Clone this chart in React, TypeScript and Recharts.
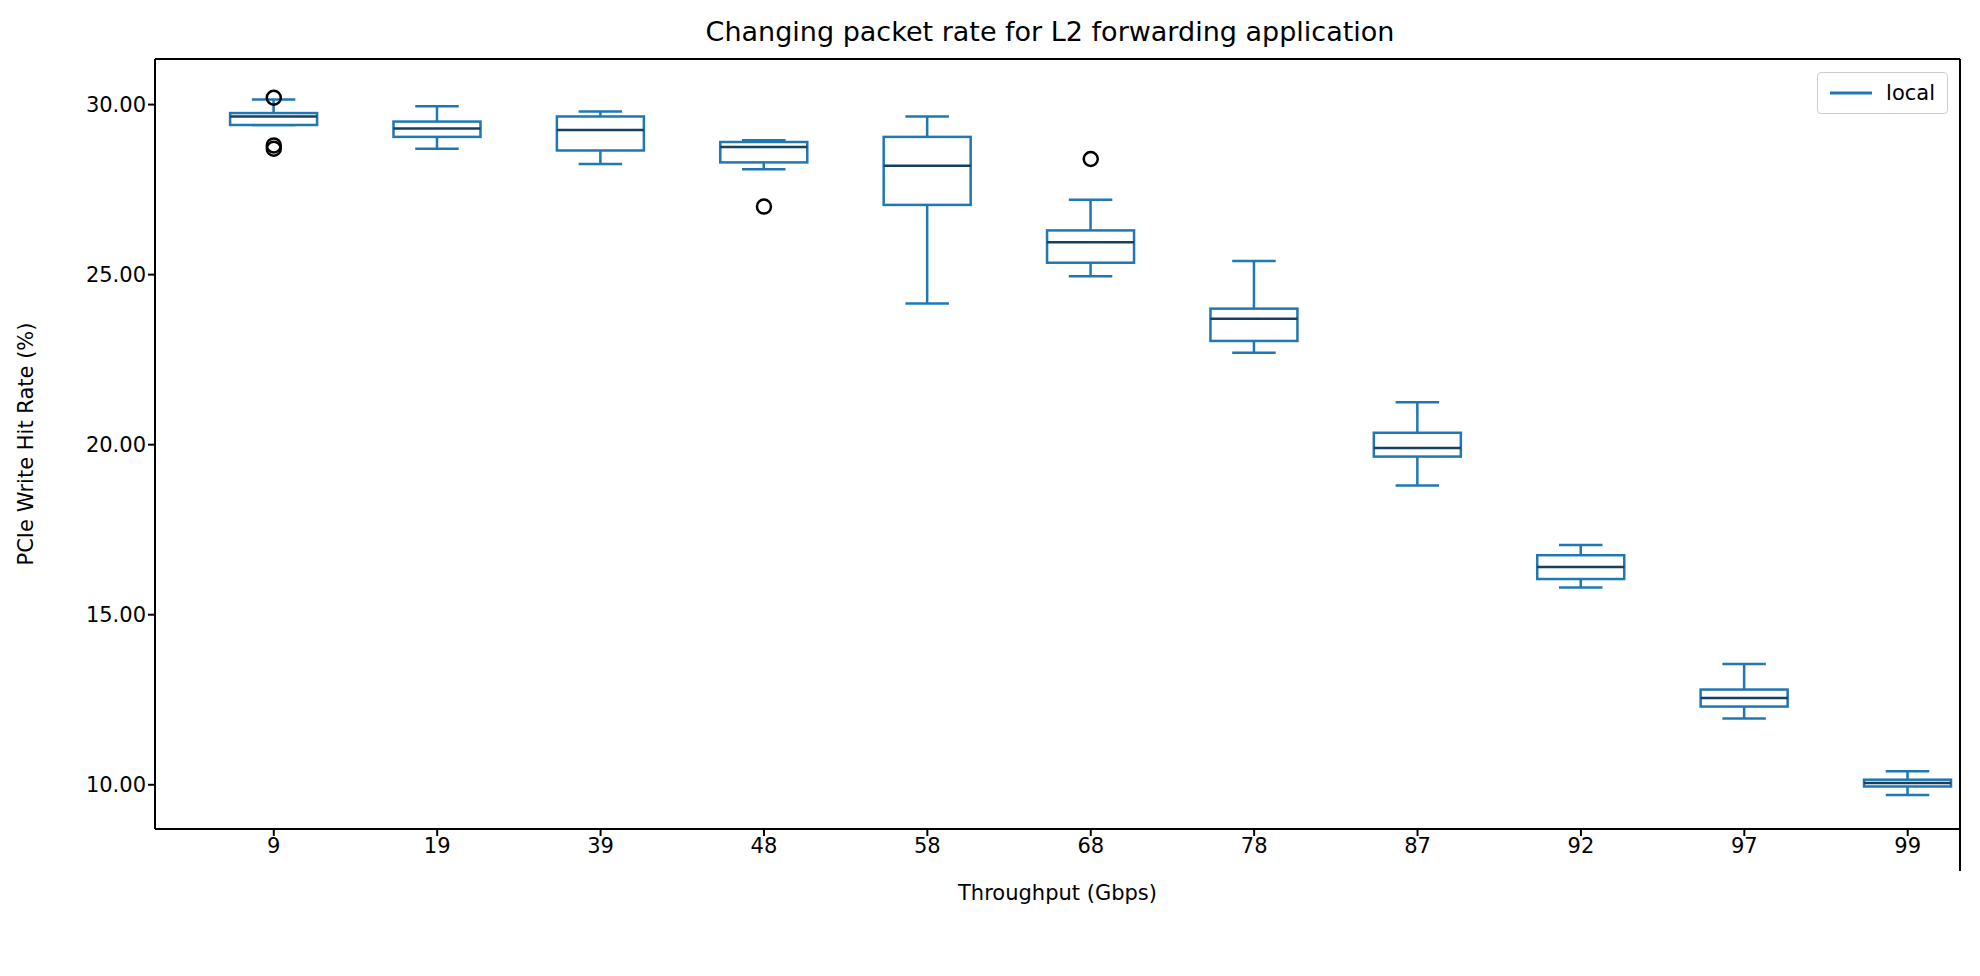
import { ComposedChart, Bar, Line, XAxis, YAxis, Legend } from 'recharts';

const categories = ['9', '19', '39', '48', '58', '68', '78', '87', '92', '97', '99'];
const whiskerLow = [29.4, 28.7, 28.25, 28.1, 24.15, 24.95, 22.7, 18.8, 15.8, 11.95, 9.7];
const q1 = [29.4, 29.05, 28.65, 28.3, 27.05, 25.35, 23.05, 19.65, 16.05, 12.3, 9.95];
const median = [29.65, 29.3, 29.25, 28.75, 28.2, 25.95, 23.7, 19.9, 16.4, 12.55, 10.05];
const q3 = [29.75, 29.5, 29.65, 28.9, 29.05, 26.3, 24.0, 20.35, 16.75, 12.8, 10.15];
const whiskerHigh = [30.15, 29.95, 29.8, 28.95, 29.65, 27.2, 25.4, 21.25, 17.05, 13.55, 10.4];
const outlierA = [30.2, null, null, 27.0, null, 28.4, null, null, null, null, null];
const outlierB = [28.8, null, null, null, null, null, null, null, null, null, null];
const outlierC = [28.7, null, null, null, null, null, null, null, null, null, null];
const yTicks = [10, 15, 20, 25, 30];

const data = categories.map((c, i) => ({
  idx: i + 1,
  cat: c,
  range: [whiskerLow[i], whiskerHigh[i]],
  o1: outlierA[i],
  o2: outlierB[i],
  o3: outlierC[i],
}));

const BLUE = '#1f77b4';
const font = 'DejaVu Sans, sans-serif';

const BoxShape = (props: any) => {
  const { x, y, width, height, index } = props;
  const lo = whiskerLow[index];
  const hi = whiskerHigh[index];
  // map value to pixel using bar's own scaled extents
  const py = (v: number) => y + height - ((v - lo) / (hi - lo)) * height;
  const cx = x + width / 2;
  const capW = width / 2;
  const yq1 = py(q1[index]);
  const yq3 = py(q3[index]);
  const ym = py(median[index]);
  return (
    <g>
      <line x1={cx} x2={cx} y1={y} y2={yq3} stroke={BLUE} strokeWidth={2.5} />
      <line x1={cx} x2={cx} y1={yq1} y2={y + height} stroke={BLUE} strokeWidth={2.5} />
      <line x1={cx - capW / 2} x2={cx + capW / 2} y1={y} y2={y} stroke={BLUE} strokeWidth={2.5} />
      <line x1={cx - capW / 2} x2={cx + capW / 2} y1={y + height} y2={y + height} stroke={BLUE} strokeWidth={2.5} />
      <rect x={x} y={yq3} width={width} height={Math.max(yq1 - yq3, 0.5)} fill="white" stroke={BLUE} strokeWidth={2.5} />
      <line x1={x} x2={x + width} y1={ym} y2={ym} stroke="#173f5f" strokeWidth={2.5} />
    </g>
  );
};

const OutlierDot = (props: any) => {
  const { cx, cy, value } = props;
  if (value == null || cy == null) return <g />;
  return <circle cx={cx} cy={cy} r={7} fill="none" stroke="#000" strokeWidth={2.5} />;
};

const LegendBox = () => (
  <div style={{ border: '1px solid #ccc', borderRadius: 4, background: 'white', padding: '8px 12px', display: 'flex', alignItems: 'center', fontFamily: font, fontSize: 21 }}>
    <svg width={42} height={10}><line x1={0} x2={42} y1={5} y2={5} stroke={BLUE} strokeWidth={3} /></svg>
    <span style={{ marginLeft: 14 }}>local</span>
  </div>
);

export default function App() {
  return (
    <div style={{ position: 'absolute', left: 0, top: 0, width: 1980, height: 976, background: 'white' }}>
      <div style={{ position: 'absolute', top: 16, width: 1980, paddingLeft: 60, textAlign: 'center', fontFamily: font, fontSize: 27 }}>
        Changing packet rate for L2 forwarding application
      </div>
      <ComposedChart width={1980} height={976} data={data} margin={{ top: 59, right: 20, bottom: 0, left: 0 }}>
        <XAxis
          dataKey="idx"
          type="number"
          domain={[0.273, 11.32]}
          ticks={data.map((d) => d.idx)}
          tickFormatter={(v: number) => categories[v - 1]}
          tick={{ fill: '#000', fontSize: 21, fontFamily: font }}
          stroke="#000"
          strokeWidth={2}
          tickSize={7}
          height={105}
          allowDataOverflow
          label={{ value: 'Throughput (Gbps)', position: 'insideBottom', offset: 34, fill: '#000', fontSize: 21, fontFamily: font }}
        />
        <YAxis
          type="number"
          domain={[8.7, 31.34]}
          ticks={yTicks}
          tickFormatter={(v: number) => v.toFixed(2)}
          tick={{ fill: '#000', fontSize: 21, fontFamily: font }}
          stroke="#000"
          strokeWidth={2}
          tickSize={7}
          width={155}
          allowDataOverflow
          label={{ value: 'PCIe Write Hit Rate (%)', angle: -90, position: 'insideLeft', offset: 26, fill: '#000', fontSize: 21, fontFamily: font, style: { textAnchor: 'middle' } }}
        />
        <Bar dataKey="range" barSize={87} shape={BoxShape} isAnimationActive={false} legendType="none" />
        <Line dataKey="o1" stroke="none" dot={OutlierDot} activeDot={false} isAnimationActive={false} legendType="none" />
        <Line dataKey="o2" stroke="none" dot={OutlierDot} activeDot={false} isAnimationActive={false} legendType="none" />
        <Line dataKey="o3" stroke="none" dot={OutlierDot} activeDot={false} isAnimationActive={false} legendType="none" />
        <Legend content={LegendBox} wrapperStyle={{ position: 'absolute', top: 72, right: 32, left: 'auto', width: 'auto' }} />
        {/* frame top and right */}
        <line x1={155} x2={1960} y1={59} y2={59} stroke="#000" strokeWidth={2} />
        <line x1={1960} x2={1960} y1={59} y2={871} stroke="#000" strokeWidth={2} />
      </ComposedChart>
    </div>
  );
}
